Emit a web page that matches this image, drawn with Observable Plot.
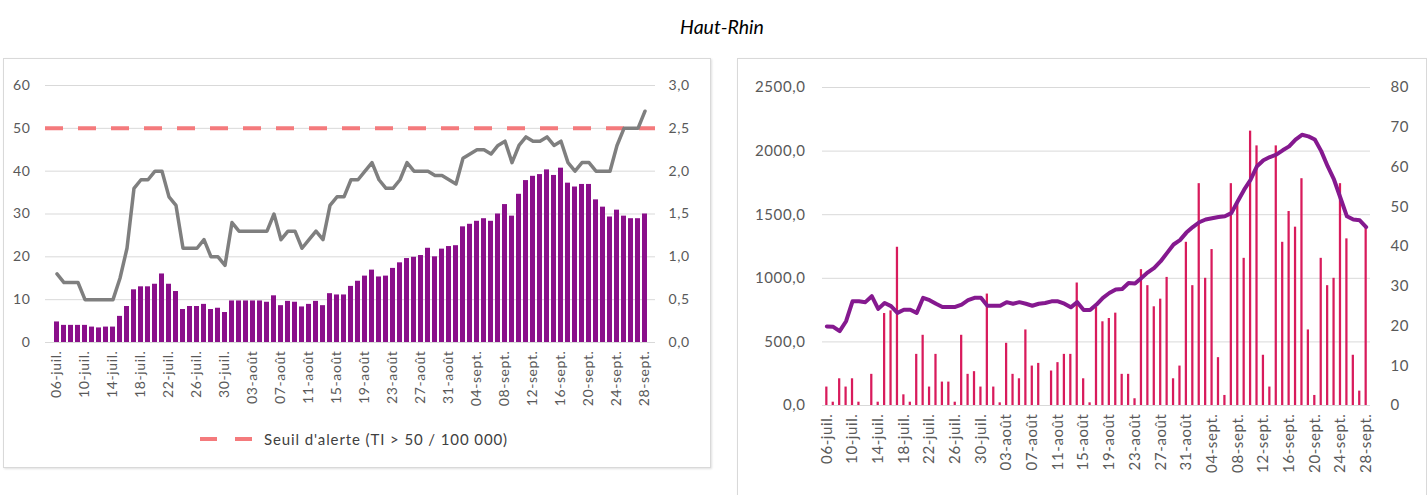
<!DOCTYPE html>
<html><head><meta charset="utf-8">
<script src="https://cdn.jsdelivr.net/npm/d3@7"></script>
<script src="https://cdn.jsdelivr.net/npm/@observablehq/plot@0.6"></script>
<style>
body{margin:0;width:1427px;height:495px;background:#fff;position:relative;overflow:hidden;font-family:Lato,"Open Sans",sans-serif;}
#title{position:absolute;top:15px;left:0;width:1444px;text-align:center;font-style:italic;font-size:19.5px;color:#000;}
.box{position:absolute;border:1px solid #d9d9d9;box-shadow:1px 1px 2px rgba(0,0,0,0.12);background:#fff;}
#leftChart{position:absolute;left:0;top:60px;}
#rightChart{position:absolute;left:737px;top:60px;}
#leftChart text, #rightChart text{letter-spacing:0.6px;}
#legend{position:absolute;left:198px;top:430px;font-size:15px;letter-spacing:0.9px;color:#404040;display:flex;align-items:center;gap:8px;}
</style></head>
<body>
<div id="title">Haut-Rhin</div>
<div class="box" style="left:3px;top:58px;width:706px;height:408px;"></div>
<div class="box" style="left:737px;top:58px;width:688px;height:450px;"></div>
<div id="leftChart"></div>
<div id="rightChart"></div>
<div id="legend"><svg width="58" height="8"><line x1="2" y1="4" x2="56" y2="4" stroke="#f47a7c" stroke-width="4" stroke-dasharray="17 18"/></svg><span>Seuil d'alerte (TI &gt; 50 / 100 000)</span></div>
<script>
// Categories: days 06-juil. .. 28-sept.
const monthNames = {6: "juil.", 7: "août", 8: "sept."};
const days = d3.utcDay.range(Date.UTC(2020, 6, 6), Date.UTC(2020, 8, 29))
  .map(d => String(d.getUTCDate()).padStart(2, "0") + "-" + monthNames[d.getUTCMonth()]);

const tickLabels = ["06-juil.","10-juil.","14-juil.","18-juil.","22-juil.","26-juil.","30-juil.",
  "03-août","07-août","11-août","15-août","19-août","23-août","27-août","31-août",
  "04-sept.","08-sept.","12-sept.","16-sept.","20-sept.","24-sept.","28-sept."];

// Left panel: incidence bars (left axis) and grey line (right axis 0-3)
const incidence = [4.8,4.0,4.0,4.0,4.0,3.6,3.4,3.6,3.6,6.1,8.4,12.3,13.0,13.0,13.6,16.0,13.6,11.9,7.7,8.4,
  8.4,8.9,7.7,8.0,7.0,9.7,9.7,9.7,9.7,9.7,9.4,10.9,8.6,9.6,9.4,8.3,8.9,9.6,8.6,11.4,
  11.1,11.1,13.1,14.3,15.5,16.9,15.3,15.5,17.3,18.6,19.6,19.9,20.3,22.0,20.0,21.8,22.4,22.6,27.0,27.6,
  28.3,28.9,28.3,30.0,32.2,29.5,34.6,37.8,38.8,39.2,40.3,39.0,40.7,37.2,36.3,36.9,36.9,33.3,31.6,29.3,
  30.9,29.5,28.9,28.9,30.0];
const greyLine = [0.8,0.7,0.7,0.7,0.5,0.5,0.5,0.5,0.5,0.75,1.1,1.8,1.9,1.9,2.0,2.0,1.7,1.6,1.1,1.1,
  1.1,1.2,1.0,1.0,0.9,1.4,1.3,1.3,1.3,1.3,1.3,1.5,1.2,1.3,1.3,1.1,1.2,1.3,1.2,1.6,
  1.7,1.7,1.9,1.9,2.0,2.1,1.9,1.8,1.8,1.9,2.1,2.0,2.0,2.0,1.95,1.95,1.9,1.85,2.15,2.2,
  2.25,2.25,2.2,2.3,2.35,2.1,2.3,2.4,2.35,2.35,2.4,2.3,2.35,2.1,2.0,2.1,2.1,2.0,2.0,2.0,
  2.3,2.5,2.5,2.5,2.7];
const alertThreshold = [50];

// Right panel: pink bars (left axis 0-2500) and purple line (right axis 0-80)
const pinkBars = [145,26,210,145,210,26,0,245,26,723,744,1244,84,26,402,552,145,402,184,184,
  26,552,245,266,145,876,145,21,489,245,210,594,310,331,0,271,337,402,402,963,
  210,21,771,658,684,726,245,245,53,1068,942,776,836,1007,210,310,1283,942,1744,1000,
  1226,376,79,1744,1586,1157,2157,2041,395,145,2041,1283,1525,1402,1783,594,79,1157,942,1000,
  1744,1310,395,113,1415];
const purpleLine = [19.9,19.8,18.7,21.2,26.2,26.2,26.0,27.5,24.3,25.8,25.0,23.3,24.1,24.1,23.3,27.1,26.5,25.6,24.8,24.8,
  24.8,25.4,26.5,27.1,27.1,25.1,25.1,25.1,26.0,25.6,26.0,25.6,25.1,25.6,25.8,26.2,26.2,25.6,24.7,26.0,
  24.0,24.0,25.4,27.1,28.3,29.2,29.3,30.8,30.7,32.1,33.5,34.6,36.3,38.4,40.5,41.6,43.5,44.9,46.1,46.8,
  47.1,47.4,47.6,48.4,51.4,54.3,56.8,60.2,61.7,62.5,63.1,64.2,65.2,66.9,68.1,67.7,66.9,64.0,60.2,56.8,
  52.2,47.6,46.8,46.6,44.9];

const leftTicks = [0,10,20,30,40,50,60];
const leftRightTicks = [0,0.5,1.0,1.5,2.0,2.5,3.0];
const rightTicks = [0,500,1000,1500,2000,2500];
const rightRightTicks = [0,10,20,30,40,50,60,70,80];

const fr = d3.formatLocale({decimal: ",", thousands: "\u00a0", grouping: [3], currency: ["", "€"]});
const f1 = fr.format(".1f");

const leftData = days.map((d, i) => ({d, v: incidence[i], g: greyLine[i]}));
const rightData = days.map((d, i) => ({d, v: pinkBars[i], p: purpleLine[i]}));

const lk = 60 / 3;      // right-axis factor, left panel
const rk = 2500 / 80;   // right-axis factor, right panel

const styleL = {fontFamily: "Lato, 'Open Sans', sans-serif", fontSize: "14px", color: "#595959", background: "transparent", overflow: "visible"};
const styleR = {fontFamily: "Lato, 'Open Sans', sans-serif", fontSize: "15px", color: "#595959", background: "transparent", overflow: "visible"};

const left = Plot.plot({
  width: 710, height: 355, marginTop: 25, marginBottom: 73, marginLeft: 45, marginRight: 55,
  style: styleL,
  x: {type: "band", domain: days, paddingInner: 0.35, paddingOuter: 0.5, label: null},
  y: {domain: [0, 60], label: null},
  marks: [
    Plot.gridY(leftTicks, {stroke: "#d9d9d9", strokeOpacity: 1}),
    Plot.barY(leftData, {x: "d", y: "v", fill: "#8a0f8a"}),
    Plot.ruleY(alertThreshold, {stroke: "#f47a7c", strokeWidth: 4, strokeDasharray: "18 15"}),
    Plot.line(leftData, {x: "d", y: d => d.g * lk, stroke: "#7f7f7f", strokeWidth: 3.5, strokeLinejoin: "round"}),
    Plot.axisY({ticks: leftTicks, anchor: "left", tickSize: 0, tickPadding: 15, label: null, fill: "#595959"}),
    Plot.axisY({ticks: leftRightTicks.map(t => t * lk), anchor: "right", tickSize: 0, tickPadding: 13, tickFormat: t => f1(t / lk), label: null, fill: "#595959"}),
    Plot.axisX({ticks: tickLabels, tickRotate: -90, tickSize: 0, tickPadding: 8, label: null, fill: "#595959"})
  ]
});
document.getElementById("leftChart").append(left);

const right = Plot.plot({
  width: 690, height: 430, marginTop: 27, marginBottom: 85, marginLeft: 85, marginRight: 57,
  style: styleR,
  x: {type: "band", domain: days, paddingInner: 0.65, paddingOuter: 0.5, label: null},
  y: {domain: [0, 2500], label: null},
  marks: [
    Plot.gridY(rightTicks, {stroke: "#d9d9d9", strokeOpacity: 1}),
    Plot.barY(rightData, {x: "d", y: "v", fill: "#d81b5c"}),
    Plot.line(rightData, {x: "d", y: d => d.p * rk, stroke: "#85198f", strokeWidth: 4, strokeLinejoin: "round"}),
    Plot.axisY({ticks: rightTicks, anchor: "left", tickSize: 0, tickPadding: 17, tickFormat: f1, label: null, fill: "#595959"}),
    Plot.axisY({ticks: rightRightTicks.map(t => t * rk), anchor: "right", tickSize: 0, tickPadding: 20, tickFormat: t => Math.round(t / rk), label: null, fill: "#595959"}),
    Plot.axisX({ticks: tickLabels, tickRotate: -90, tickSize: 0, tickPadding: 8, label: null, fill: "#595959"})
  ]
});
document.getElementById("rightChart").append(right);
</script>
</body></html>
